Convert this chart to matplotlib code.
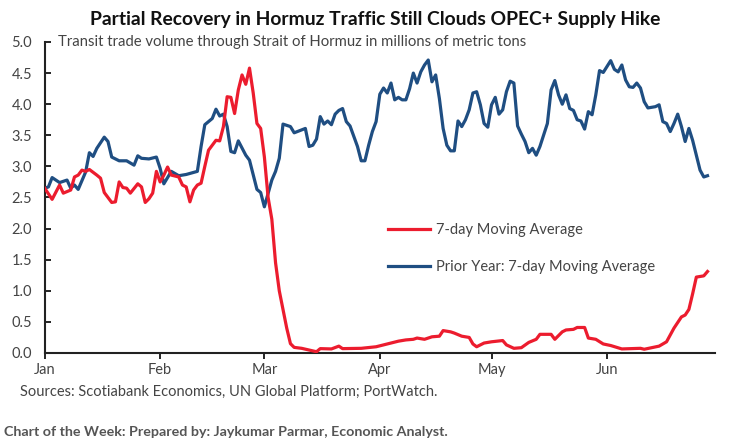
import pandas as pd
import matplotlib
matplotlib.use('Agg')
import matplotlib.pyplot as plt
import matplotlib.dates as mdates

START = pd.Timestamp('2025-01-01')
END = pd.Timestamp('2025-06-30')

# days since Jan 1 and values (millions of metric tons)
current_days = [0, 2, 4, 5, 7, 8, 9, 10, 11, 12, 14, 15, 16, 18, 19, 20, 21, 22, 23, 25,
                26, 27, 28, 29, 30, 31, 32, 33, 34, 36, 37, 38, 39, 40, 41, 42, 43, 44, 46, 47,
                48, 49, 50, 51, 52, 53, 54, 55, 56, 57, 58, 59, 60, 61, 62, 63, 64, 65, 66, 67,
                69, 73, 74, 77, 79, 80, 85, 89, 91, 93, 95, 97, 99, 100, 102, 104, 106, 107, 109, 110,
                112, 114, 115, 116, 118, 120, 123, 124, 126, 128, 130, 132, 133, 136, 137, 139, 140, 142, 143, 145,
                146, 148, 150, 152, 155, 160, 161, 163, 165, 167, 169, 171, 172, 173, 174, 175, 177, 178]
current_vals = [2.65, 2.47, 2.70, 2.57, 2.62, 2.83, 2.86, 2.94, 2.92, 2.95, 2.86, 2.81, 2.58, 2.42, 2.43, 2.75, 2.66, 2.65, 2.57, 2.72,
                2.67, 2.42, 2.48, 2.57, 2.92, 2.75, 2.86, 2.99, 2.86, 2.83, 2.70, 2.67, 2.43, 2.62, 2.70, 2.73, 3.00, 3.26, 3.42, 3.41,
                3.64, 4.12, 4.11, 3.85, 4.23, 4.47, 4.32, 4.58, 4.18, 3.69, 3.61, 3.15, 2.50, 2.15, 1.45, 1.00, 0.70, 0.40, 0.15, 0.09,
                0.075, 0.02, 0.07, 0.065, 0.11, 0.07, 0.075, 0.10, 0.13, 0.16, 0.19, 0.21, 0.22, 0.24, 0.22, 0.26, 0.27, 0.36, 0.34, 0.32,
                0.27, 0.25, 0.145, 0.10, 0.16, 0.18, 0.20, 0.13, 0.075, 0.085, 0.17, 0.22, 0.30, 0.30, 0.22, 0.34, 0.37, 0.38, 0.41, 0.41,
                0.24, 0.22, 0.145, 0.12, 0.065, 0.075, 0.06, 0.085, 0.11, 0.18, 0.40, 0.58, 0.61, 0.70, 0.95, 1.22, 1.24, 1.31]

prior_days = [0, 1, 2, 4, 6, 7, 8, 9, 11, 12, 13, 14, 16, 17, 18, 20, 22, 24, 25, 26,
              28, 30, 31, 32, 34, 36, 38, 41, 42, 43, 45, 46, 47, 48, 49, 50, 51, 52, 54, 55,
              57, 58, 59, 61, 62, 63, 64, 66, 67, 70, 71, 72, 73, 74, 75, 76, 77, 78, 79, 80,
              81, 82, 84, 85, 86, 87, 88, 89, 90, 91, 92, 93, 94, 95, 96, 97, 98, 99, 100, 101,
              102, 103, 104, 105, 106, 107, 108, 109, 110, 111, 112, 113, 114, 115, 116, 117, 118, 119, 120, 121,
              122, 123, 124, 125, 126, 127, 128, 129, 130, 131, 132, 133, 135, 136, 137, 138, 139, 140, 141, 142,
              143, 144, 145, 146, 147, 148, 149, 150, 152, 153, 154, 155, 156, 157, 158, 159, 160, 161, 162, 164,
              165, 166, 167, 168, 169, 170, 171, 172, 173, 174, 175, 176, 177, 178]
prior_vals = [2.65, 2.67, 2.82, 2.74, 2.78, 2.65, 2.70, 2.63, 2.91, 3.22, 3.16, 3.29, 3.47, 3.40, 3.15, 3.09, 3.09, 3.02, 3.17, 3.13,
              3.12, 3.15, 2.97, 2.72, 2.92, 2.85, 2.87, 2.92, 3.32, 3.67, 3.77, 3.92, 3.81, 3.84, 3.64, 3.24, 3.22, 3.41, 3.18, 3.10,
              2.63, 2.58, 2.35, 2.78, 2.92, 3.13, 3.68, 3.64, 3.54, 3.61, 3.32, 3.34, 3.44, 3.80, 3.68, 3.73, 3.67, 3.84, 3.90, 3.93,
              3.72, 3.65, 3.32, 3.09, 3.09, 3.34, 3.56, 3.72, 4.16, 4.26, 4.18, 4.34, 4.07, 4.11, 4.07, 4.07, 4.25, 4.50, 4.34, 4.52,
              4.63, 4.71, 4.36, 4.47, 4.09, 3.61, 3.34, 3.25, 3.25, 3.73, 3.64, 3.75, 3.91, 4.18, 4.20, 3.99, 3.69, 3.63, 3.99, 4.11,
              3.84, 3.91, 4.20, 4.37, 4.34, 3.65, 3.52, 3.40, 3.22, 3.29, 3.18, 3.32, 3.69, 4.23, 4.38, 4.15, 4.00, 4.15, 3.93, 3.90,
              3.75, 3.73, 3.60, 3.88, 3.83, 4.15, 4.54, 4.51, 4.70, 4.56, 4.52, 4.63, 4.39, 4.28, 4.27, 4.34, 4.26, 4.04, 3.94, 3.96,
              3.99, 3.72, 3.69, 3.56, 3.69, 3.84, 3.64, 3.40, 3.61, 3.42, 3.18, 2.94, 2.83, 2.85]

yticks = [0.0, 0.5, 1.0, 1.5, 2.0, 2.5, 3.0, 3.5, 4.0, 4.5, 5.0]

RED = '#EC1C2E'
BLUE = '#1F4E82'
GREY = '#444444'

plt.rcParams['font.family'] = ['Lato', 'DejaVu Sans']

current_dates = START + pd.to_timedelta(current_days, unit='D')
prior_dates = START + pd.to_timedelta(prior_days, unit='D')

fig = plt.figure(figsize=(7.51, 4.43), dpi=100)
ax = fig.add_axes([0.0595, 0.2032, 0.8925, 0.702])

ax.plot(prior_dates, prior_vals, color=BLUE, lw=2.3, label='Prior Year: 7-day Moving Average', zorder=2)
ax.plot(current_dates, current_vals, color=RED, lw=2.3, label='7-day Moving Average', zorder=3)

ax.set_xlim(START, END)
ax.set_ylim(0, 5)
ax.set_yticks(yticks)
ax.set_yticklabels([f'{v:.1f}' for v in yticks])
ax.xaxis.set_major_locator(mdates.MonthLocator())
ax.xaxis.set_major_formatter(mdates.DateFormatter('%b'))

for s in ['top', 'right']:
    ax.spines[s].set_visible(False)
for s in ['left', 'bottom']:
    ax.spines[s].set_linewidth(1.5)
    ax.spines[s].set_color('#222222')

ax.tick_params(axis='y', direction='in', length=4, width=1.2, pad=9, labelsize=10.5, labelcolor=GREY)
ax.tick_params(axis='x', direction='out', length=4, width=1.2, pad=3, labelsize=10.5, labelcolor=GREY)

# legend: 7-day first, prior year second
handles, labels = ax.get_legend_handles_labels()
leg = ax.legend(handles[::-1], labels[::-1], loc='upper left', bbox_to_anchor=(0.512, 0.418),
                frameon=False, fontsize=10.5, handlelength=2.9, handletextpad=0.4,
                labelspacing=1.57, borderpad=0, borderaxespad=0)
for t in leg.get_texts():
    t.set_color(GREY)

fig.text(0.5, 0.955, 'Partial Recovery in Hormuz Traffic Still Clouds OPEC+ Supply Hike',
         ha='center', va='center', fontsize=13.9, fontweight='bold', color='#111111')
ax.text(0.02, 1.0, 'Transit trade volume through Strait of Hormuz in millions of metric tons',
        transform=ax.transAxes, ha='left', va='center', fontsize=10.7, color=GREY)
fig.text(20 / 751, 1 - 392 / 443, 'Sources: Scotiabank Economics, UN Global Platform; PortWatch.',
         ha='left', va='center', fontsize=10.5, color=GREY)
fig.text(4 / 751, 1 - 432 / 443, 'Chart of the Week: Prepared by: Jaykumar Parmar, Economic Analyst.',
         ha='left', va='center', fontsize=10.3, fontweight='bold', color='#555555')

fig.savefig('out.png', dpi=100)
